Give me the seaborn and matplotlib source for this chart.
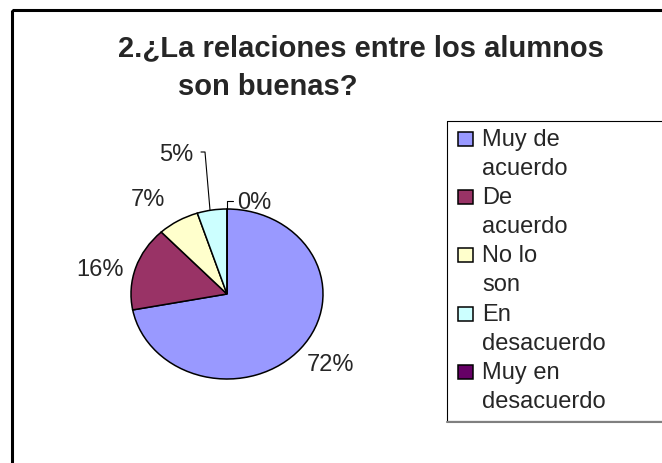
import seaborn as sns
import matplotlib.pyplot as plt
from matplotlib.patches import Rectangle

# datos del grafico
categorias = ["Muy de\nacuerdo", "De\nacuerdo", "No lo\nson", "En\ndesacuerdo", "Muy en\ndesacuerdo"]
porcentajes = [72, 16, 7, 5, 0]
colores = ["#9999FF", "#993366", "#FFFFCC", "#CCFFFF", "#660066"]
titulo = ["2.¿La relaciones entre los alumnos", "son buenas?"]

sns.set_style("white")
plt.rcParams['font.family'] = ['Liberation Sans', 'DejaVu Sans']

W, H = 662, 464
fig = plt.figure(figsize=(W / 100, H / 100), dpi=100)


def px_box(x0, y0, x1, y1):
    return [x0 / W, 1 - y1 / H, (x1 - x0) / W, (y1 - y0) / H]


# pastel (eliptico, como en Excel)
ax_pie = fig.add_axes(px_box(131, 210, 323, 380))
wedges, _ = ax_pie.pie(porcentajes, colors=colores, startangle=90, counterclock=False,
                       wedgeprops=dict(edgecolor="black", linewidth=1.1))
for w in wedges:
    w.set_clip_on(False)
ax_pie.set_aspect("auto")
ax_pie.set_xlim(-1, 1)
ax_pie.set_ylim(-1, 1)
ax_pie.axis("off")

# capa en pixeles para textos y marcos
ax = fig.add_axes([0, 0, 1, 1])
ax.set_xlim(0, W)
ax.set_ylim(H, 0)
ax.axis("off")
ax.patch.set_alpha(0)

ax.add_patch(Rectangle((11.5, 10.5), 900, 900, fill=False, lw=2.2, edgecolor="black"))

ax.text(118, 56, titulo[0], fontsize=21, fontweight="bold", va="baseline")
ax.text(178, 95, titulo[1], fontsize=21, fontweight="bold", va="baseline")

# etiquetas de porcentaje
pos_etiquetas = [(331, 365), (100, 270), (148, 200), (176, 155), (254, 203)]
for p, (x, y) in zip(porcentajes, pos_etiquetas):
    ax.text(x, y, f"{p}%", fontsize=17, ha="center", va="center")
ax.plot([201, 205, 210], [153, 153, 211], color="black", lw=0.8)
ax.plot([227, 227, 233], [210, 202, 202], color="black", lw=0.8)

# leyenda
ax.add_patch(Rectangle((446.5, 121.5), 400, 300, fill=False, lw=0.8, edgecolor="black"))
ax.plot([447, 662], [422.5, 422.5], color="#808080", lw=1.5)
paso = 29.1
for i, (lab, c) in enumerate(zip(categorias, colores)):
    base = 146 + 2 * i * paso
    ax.add_patch(Rectangle((458, base - 13), 15, 14, facecolor=c, edgecolor="black", lw=1.1))
    for j, linea in enumerate(lab.split("\n")):
        ax.text(482, base + j * paso, linea, fontsize=17, va="baseline")

fig.savefig("out.png", dpi=100)
